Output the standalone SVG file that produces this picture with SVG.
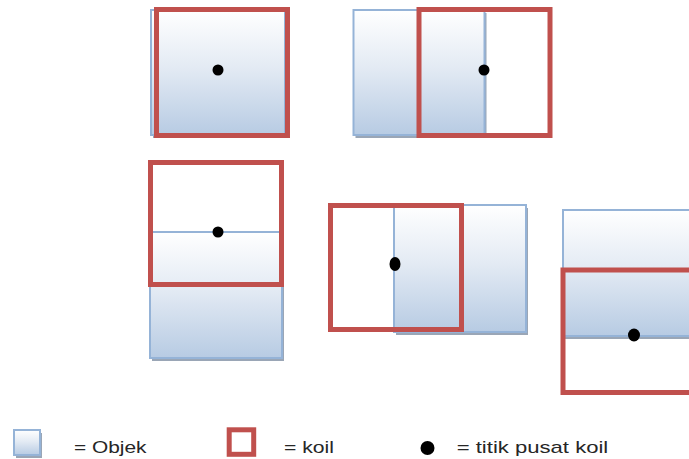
<svg xmlns="http://www.w3.org/2000/svg" width="689" height="459" viewBox="0 0 689 459">
  <defs>
    <linearGradient id="objGrad" x1="0" y1="0" x2="0" y2="1">
      <stop offset="0" stop-color="#ffffff"/>
      <stop offset="0.45" stop-color="#e4ebf4"/>
      <stop offset="1" stop-color="#b7cbe3"/>
    </linearGradient>
    <style>
      .shadow { fill: #9aa6b6; }
      .obj { fill: url(#objGrad); stroke: #95b3d7; stroke-width: 2; }
      .coil { fill: none; stroke: #c0504d; stroke-width: 5; }
      .dot { fill: #000000; }
      .lbl { font-family: "Liberation Sans", "Open Sans", Arial, sans-serif; font-size: 17px; fill: #262626; }
    </style>
  </defs>
  <rect width="689" height="459" fill="#ffffff"/>

  <g id="case1">
    <rect class="shadow" x="153" y="13" width="134" height="125"/>
    <rect class="obj" x="151" y="10" width="134" height="125"/>
    <rect class="coil" x="156.5" y="9.5" width="131" height="126"/>
    <circle class="dot" cx="218" cy="70" r="5.5"/>
  </g>

  <g id="case2">
    <rect class="shadow" x="355.5" y="13" width="131" height="125"/>
    <rect class="obj" x="353.5" y="10" width="131" height="125"/>
    <rect class="coil" x="419" y="9.5" width="131" height="126"/>
    <circle class="dot" cx="484" cy="70" r="5.5"/>
  </g>

  <g id="case3">
    <rect class="shadow" x="152" y="235" width="132" height="126"/>
    <rect class="obj" x="150" y="232" width="132" height="126"/>
    <rect class="coil" x="150.5" y="162.5" width="131" height="122"/>
    <circle class="dot" cx="218" cy="232" r="5.5"/>
  </g>

  <g id="case4">
    <rect class="shadow" x="396" y="208" width="132" height="127"/>
    <rect class="obj" x="394" y="205" width="132" height="127"/>
    <rect class="coil" x="330.5" y="205.5" width="131" height="124"/>
    <ellipse class="dot" cx="395" cy="264" rx="5.5" ry="7"/>
  </g>

  <g id="case5">
    <rect class="shadow" x="565" y="213" width="140" height="126"/>
    <rect class="obj" x="563" y="210" width="140" height="126"/>
    <rect class="coil" x="563" y="270" width="140" height="122.5"/>
    <ellipse class="dot" cx="634" cy="335" rx="6" ry="6.5"/>
  </g>

  <g id="connectors"/>

  <g id="legend">
    <g id="legend-objek">
      <rect class="shadow" x="16" y="433" width="26" height="25"/>
      <rect class="obj" x="14" y="430" width="26" height="25"/>
      <text class="lbl" x="74" y="453" textLength="72.5" lengthAdjust="spacingAndGlyphs">= Objek</text>
    </g>
    <g id="legend-koil">
      <rect class="coil" x="229.2" y="429.8" width="24.5" height="24.5"/>
      <text class="lbl" x="284" y="453" textLength="50" lengthAdjust="spacingAndGlyphs">= koil</text>
    </g>
    <g id="legend-pusat">
      <circle class="dot" cx="427.5" cy="448" r="7"/>
      <text class="lbl" x="456.7" y="453" textLength="151.6" lengthAdjust="spacingAndGlyphs">= titik pusat koil</text>
    </g>
  </g>
</svg>
